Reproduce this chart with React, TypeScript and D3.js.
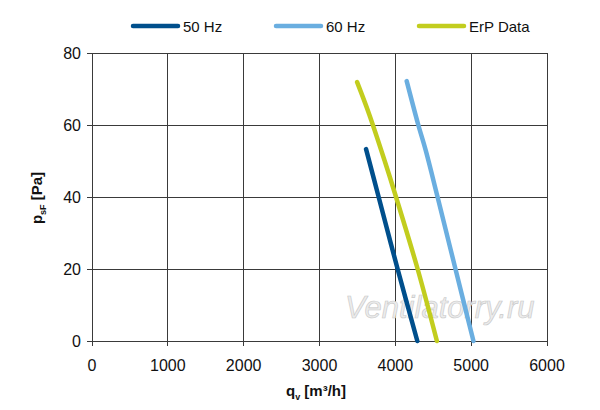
import React, { useEffect, useRef } from 'react'
import * as d3 from 'd3'

// flow q [m3/h] vs static pressure p [Pa]
const q50 = [3614, 3780, 4030, 4290]
const p50 = [53.3, 40, 20, 0]
const q60 = [4150, 4303, 4400, 4557, 4793, 5030]
const p60 = [72.2, 60, 53, 40, 20, 0]
const qErp = [3496, 3655, 3860, 4009, 4294, 4548]
const pErp = [71.9, 63, 50, 40, 20, 0]

const xTicks = [0, 1000, 2000, 3000, 4000, 5000, 6000]
const yTicks = [0, 20, 40, 60, 80]

const series = [
  { name: '50 Hz', color: '#004f8c', q: q50, p: p50 },
  { name: '60 Hz', color: '#6aaee0', q: q60, p: p60 },
  { name: 'ErP Data', color: '#c2cd1e', q: qErp, p: pErp },
]

const W = 600
const H = 410
const FONT = '"Liberation Sans", Arial, sans-serif'

export default function App() {
  const ref = useRef<SVGSVGElement | null>(null)

  useEffect(() => {
    document.body.style.margin = '0'
    const svg = d3.select(ref.current)
    svg.selectAll('*').remove()

    const left = 92, right = 547, top = 53, bottom = 341
    const x = d3.scaleLinear().domain([0, 6000]).range([left, right])
    const y = d3.scaleLinear().domain([0, 80]).range([bottom, top])

    // grid
    const grid = svg.append('g').attr('stroke', '#3a3a3a').attr('stroke-width', 1).attr('shape-rendering', 'crispEdges')
    grid.selectAll('line.v').data(xTicks).enter().append('line')
      .attr('x1', d => x(d)).attr('x2', d => x(d)).attr('y1', top).attr('y2', bottom + 5)
    grid.selectAll('line.h').data(yTicks).enter().append('line')
      .attr('x1', left - 5).attr('x2', right).attr('y1', d => y(d)).attr('y2', d => y(d))

    // tick labels
    svg.append('g').selectAll('text').data(xTicks).enter().append('text')
      .attr('x', d => x(d)).attr('y', bottom + 30)
      .attr('text-anchor', 'middle').attr('font-family', FONT).attr('font-size', 16).attr('fill', '#111')
      .text(d => d)
    svg.append('g').selectAll('text').data(yTicks).enter().append('text')
      .attr('x', left - 11).attr('y', d => y(d) + 6)
      .attr('text-anchor', 'end').attr('font-family', FONT).attr('font-size', 16).attr('fill', '#111')
      .text(d => d)

    // watermark
    svg.append('text').attr('x', 345).attr('y', 318)
      .attr('font-family', FONT).attr('font-style', 'italic').attr('font-size', 31)
      .attr('fill', '#ececec').attr('stroke', '#c8c8c8').attr('stroke-width', 0.6)
      .text('Ventilatorry.ru')

    // curves
    const line = d3.line<[number, number]>()
      .x(d => x(d[0])).y(d => y(d[1]))
      .curve(d3.curveCatmullRom)
    series.forEach(s => {
      const pts = s.q.map((v, i) => [v, s.p[i]] as [number, number])
      svg.append('path').datum(pts)
        .attr('fill', 'none').attr('stroke', s.color).attr('stroke-width', 4.5)
        .attr('stroke-linecap', 'round').attr('stroke-linejoin', 'round')
        .attr('d', line)
    })

    // legend
    const legX = [133, 276, 419]
    series.forEach((s, i) => {
      const g = svg.append('g').attr('transform', `translate(${legX[i]},26)`)
      g.append('line').attr('x1', 0).attr('x2', 45).attr('y1', 0).attr('y2', 0)
        .attr('stroke', s.color).attr('stroke-width', 4.5).attr('stroke-linecap', 'round')
      g.append('text').attr('x', 50).attr('y', 6)
        .attr('font-family', FONT).attr('font-size', 15).attr('fill', '#111')
        .text(s.name)
    })

    // axis titles
    const xt = svg.append('text').attr('x', 316).attr('y', 396)
      .attr('text-anchor', 'middle').attr('font-family', FONT).attr('font-size', 15)
      .attr('font-weight', 'bold').attr('fill', '#111')
    xt.append('tspan').text('q')
    xt.append('tspan').attr('font-size', 9).attr('dy', 4).text('v')
    xt.append('tspan').attr('dy', -4).text(' [m³/h]')

    const yt = svg.append('text').attr('transform', 'translate(42,198) rotate(-90)')
      .attr('text-anchor', 'middle').attr('font-family', FONT).attr('font-size', 15)
      .attr('font-weight', 'bold').attr('fill', '#111')
    yt.append('tspan').text('p')
    yt.append('tspan').attr('font-size', 9).attr('dy', 4).text('sF')
    yt.append('tspan').attr('dy', -4).text(' [Pa]')
  }, [])

  return <svg ref={ref} width={W} height={H} style={{ display: 'block', background: '#fff' }} />
}
